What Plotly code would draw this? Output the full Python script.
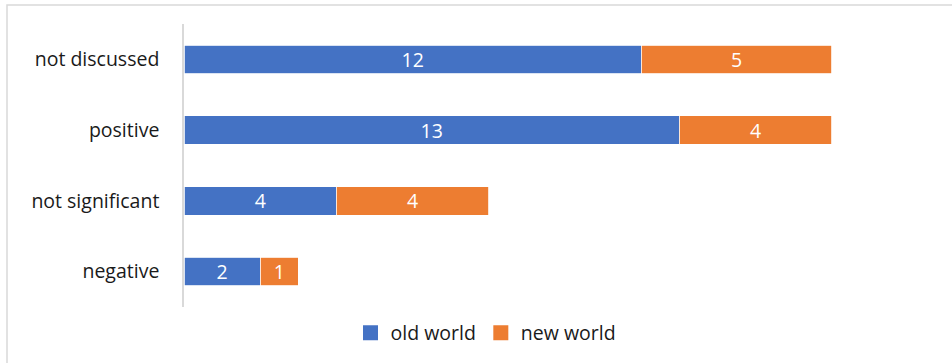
import plotly.graph_objects as go

categories = ["negative", "not significant", "positive", "not discussed"]
old_world = [2, 4, 13, 12]
new_world = [1, 4, 4, 5]

W, H = 952, 363
L, R, T, B = 184, 82, 24, 56
pw, ph = W - L - R, H - T - B

def px2x(px):
    return (px - L) / pw

def py2y(py):
    return (H - B - py) / ph

font = "Open Sans"
fs = 19.5
fig = go.Figure()
series = [("old world", old_world, "#4472C4"), ("new world", new_world, "#ED7D31")]
for name, vals, col in series:
    fig.add_trace(go.Bar(
        y=categories, x=vals, name=name, orientation="h",
        marker=dict(color=col, line=dict(color="white", width=0.8)),
        text=[str(v) for v in vals], textposition="inside",
        insidetextanchor="middle", textangle=0, constraintext="none",
        textfont=dict(color="white", size=fs, family=font),
        hoverinfo="skip", showlegend=False,
    ))
for name, vals, col in series:
    fig.add_trace(go.Scatter(
        x=[None], y=[None], mode="markers", name=name,
        marker=dict(symbol="square", size=15, color=col),
        showlegend=True, hoverinfo="skip",
    ))

fig.update_layout(
    width=W, height=H, barmode="stack", bargap=0.6,
    margin=dict(l=L, r=R, t=T, b=B, autoexpand=False),
    paper_bgcolor="white", plot_bgcolor="white",
    font=dict(family=font, size=fs, color="#1a1a1a"),
    showlegend=True,
    legend=dict(orientation="h", x=px2x(486), xanchor="center",
                y=py2y(333), yanchor="middle", font=dict(size=fs, family=font),
                itemwidth=30, traceorder="normal"),
    xaxis=dict(range=[0, 18], showgrid=False, zeroline=False, showticklabels=False,
               showline=False, fixedrange=True),
    yaxis=dict(categoryorder="array", categoryarray=categories, showgrid=False,
               showline=True, linecolor="#d9d9d9", linewidth=1.5, ticks="",
               ticklabelstandoff=19, tickfont=dict(size=fs, family=font, color="#1a1a1a")),
    shapes=[dict(type="rect", xref="paper", yref="paper",
                 x0=px2x(7), x1=px2x(970), y0=py2y(380), y1=py2y(5),
                 line=dict(color="#d9d9d9", width=1.5), fillcolor="rgba(0,0,0,0)", layer="below")],
)
fig.write_html("out.html")
